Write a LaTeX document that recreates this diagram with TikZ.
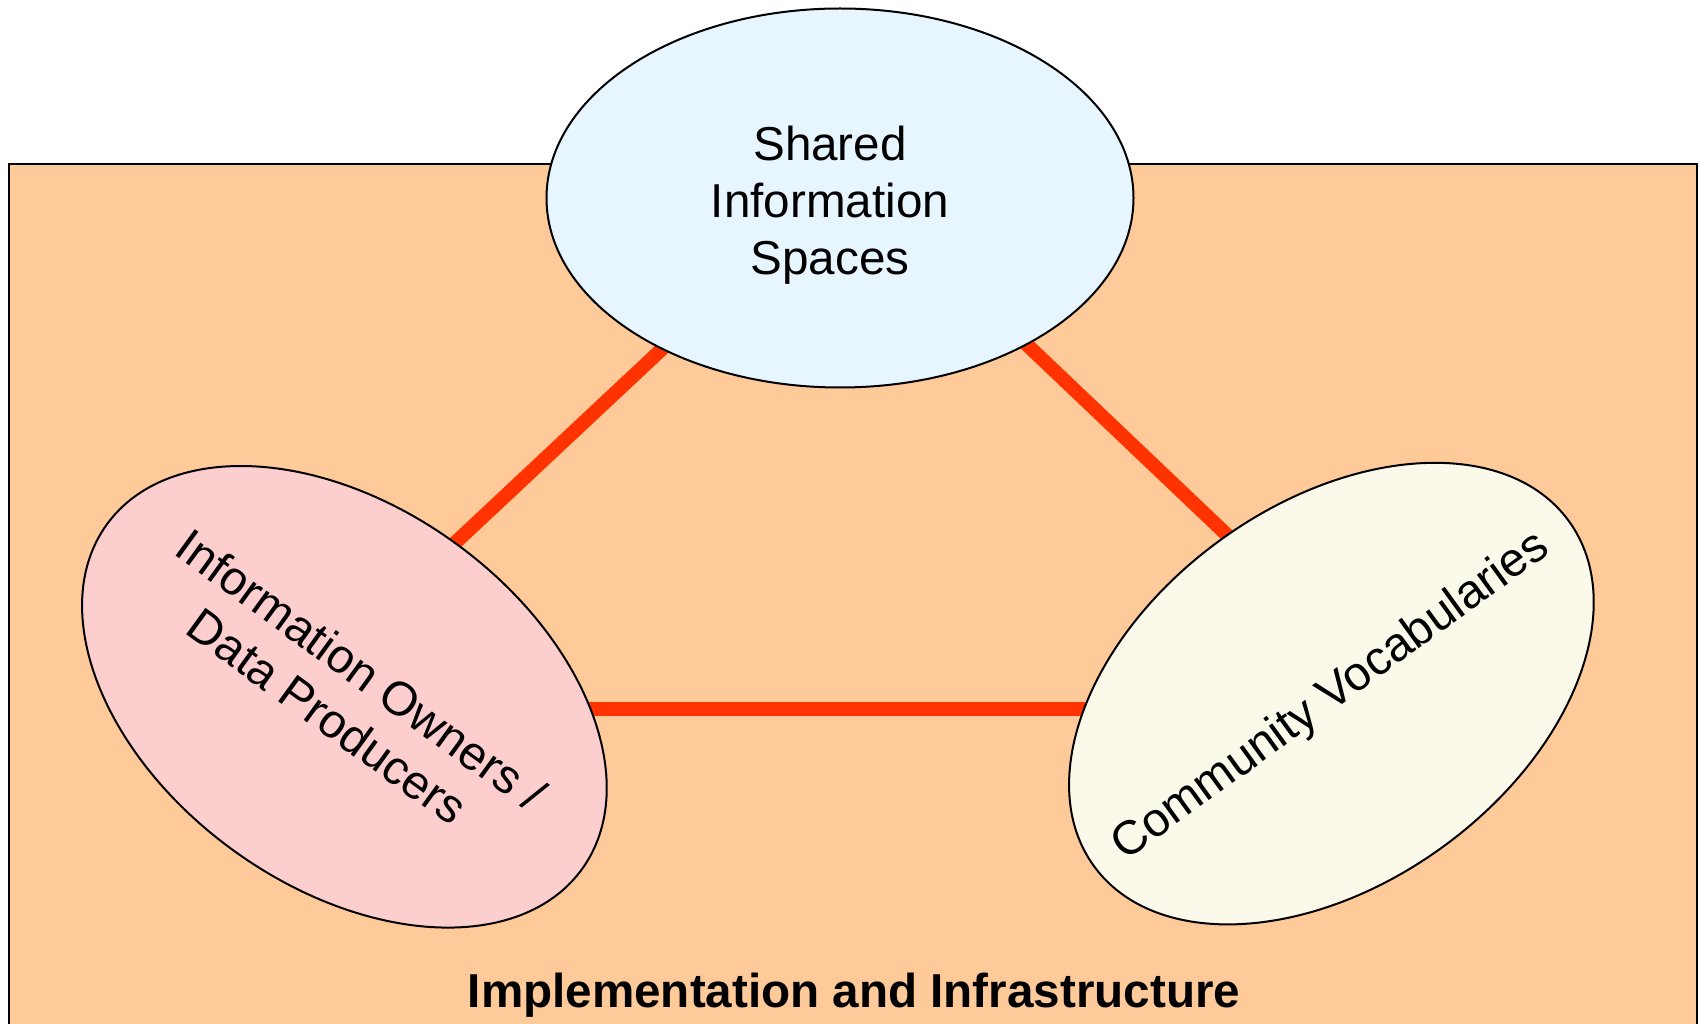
\documentclass[tikz,border=0pt]{standalone}
\usepackage{fontspec}
\setmainfont{Liberation Sans}
\usetikzlibrary{shapes.geometric}
\definecolor{peach}{HTML}{FFCA99}
\definecolor{skyfill}{HTML}{E7F6FE}
\definecolor{pinkfill}{HTML}{FDCECE}
\definecolor{creamfill}{HTML}{FAF9EA}
\definecolor{linkred}{HTML}{FF3300}
\tikzset{
  bubble/.style={ellipse, draw=black, line width=2pt, inner sep=0pt,
    minimum width=587pt, minimum height=379pt},
  label/.style={align=center, inner sep=0pt, font=\fontsize{47.6}{57}\selectfont},
  link/.style={draw=linkred, line width=14pt},
}
\begin{document}
\begin{tikzpicture}[x=1pt,y=-1pt]
\useasboundingbox (0,0) rectangle (1698,1024);
\fill[white] (0,0) rectangle (1698,1024);
\draw[fill=peach, line width=2.5pt] (9,164) rectangle (1697,1040);
% connector end points (hidden inside the ellipses)
\coordinate (tl) at (725,290);
\coordinate (lt) at (392,602);
\coordinate (tr) at (966.5,287.2);
\coordinate (rt) at (1287,592);
\coordinate (lr) at (400,709);
\coordinate (rl) at (1280,709);
\draw[link] (tl) -- (lt);
\draw[link] (tr) -- (rt);
\draw[link] (lr) -- (rl);
\node[bubble, fill=skyfill] (shared) at (840,198) {};
\node[bubble, fill=pinkfill, rotate=-36] (owners) at (344.4,696.8) {};
\node[bubble, fill=creamfill, rotate=36] (vocab) at (1331.4,693.6) {};
\node[label] (sharedtext) at (830,205) {Shared\\Information\\Spaces};
\node[label, rotate=-36] (ownerstext) at (344.4,693) {Information Owners /\\Data Producers};
\node[label, rotate=36] (vocabtext) at (1331.4,697) {Community Vocabularies};
\node[anchor=base, font=\bfseries\fontsize{47.6}{57}\selectfont] (impl) at (854,1007) {Implementation and Infrastructure};
\end{tikzpicture}
\end{document}
